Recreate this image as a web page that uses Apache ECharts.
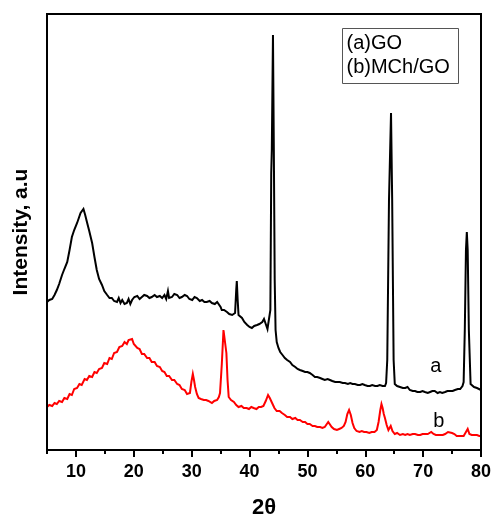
<!DOCTYPE html>
<html>
<head>
<meta charset="utf-8">
<script src="https://cdn.jsdelivr.net/npm/echarts@6/dist/echarts.min.js"></script>
<style>
  html, body { margin: 0; padding: 0; background: #fff; }
  #chart { width: 492px; height: 520px; }
</style>
</head>
<body>
<div id="chart"></div>
<script>
// XRD patterns: (a) GO and (b) MCh/GO, intensity in arbitrary units
const goAngle = [
  5.0, 5.4, 5.9, 6.3, 6.7, 7.1, 7.6, 8.0, 8.5, 8.9, 9.3, 9.7, 10.2, 10.5, 10.8, 11.1, 11.3, 11.6, 11.9, 12.3,
  12.8, 13.2, 13.6, 14.0, 14.5, 14.9, 15.4, 15.8, 16.2, 16.6, 17.1, 17.4, 17.7, 18.0, 18.4, 18.8, 19.1, 19.4, 19.7, 20.1,
  20.6, 21.0, 21.4, 21.8, 22.3, 22.7, 23.1, 23.6, 24.0, 24.5, 24.9, 25.3, 25.6, 25.9, 26.1, 26.6, 27.0, 27.5, 27.9, 28.3,
  28.8, 29.2, 29.6, 30.1, 30.5, 30.9, 31.4, 31.8, 32.2, 32.6, 33.1, 33.5, 34.0, 34.4, 34.7, 35.0, 35.2, 35.6, 36.1, 36.5,
  37.0, 37.3, 37.5, 37.7, 37.8, 37.95, 38.1, 38.4, 38.7, 39.1, 39.6, 40.0, 40.4, 40.8, 41.3, 41.7, 42.2, 42.5, 42.8, 43.1,
  43.4, 43.6, 43.75, 43.85, 44.05, 44.2, 44.35, 44.5, 44.7, 45.0, 45.3, 45.7, 46.1, 46.5, 47.0, 47.4, 47.9, 48.3, 48.7, 49.2,
  49.6, 50.0, 50.4, 50.9, 51.3, 51.7, 52.2, 52.6, 53.0, 53.5, 53.9, 54.3, 54.8, 55.2, 55.6, 56.1, 56.5, 57.0, 57.4, 57.8,
  58.2, 58.7, 59.1, 59.5, 59.9, 60.4, 60.8, 61.2, 61.7, 62.1, 62.5, 63.0, 63.4, 63.6, 63.8, 64.1, 64.45, 64.65, 64.9, 65.1,
  65.5, 66.0, 66.5, 66.9, 67.3, 67.7, 68.2, 68.6, 69.0, 69.5, 69.9, 70.3, 70.8, 71.2, 71.6, 72.0, 72.5, 72.9, 73.3, 73.8,
  74.2, 74.6, 75.1, 75.5, 76.0, 76.4, 76.8, 77.0, 77.2, 77.4, 77.55, 77.7, 77.9, 78.2, 78.4, 78.8, 79.3, 79.6, 80.0
];
const goIntensity = [
  148, 150, 151, 155, 160, 166, 175, 181, 188, 200, 213, 220, 227, 232, 237, 239, 241, 235, 228, 219,
  207, 193, 180, 171, 165, 159, 155, 152, 152, 149, 148, 152, 147, 150, 146, 147, 151, 146, 150, 153,
  154, 151, 153, 155, 154, 152, 153, 155, 153, 154, 152, 155, 151, 159, 152, 153, 156, 155, 152, 153,
  155, 154, 151, 150, 153, 152, 149, 150, 148, 148, 149, 147, 146, 148, 147, 143, 140, 140, 138, 136,
  135, 134, 137, 160, 169, 150, 135, 134, 132, 128, 125, 123, 122, 124, 125, 126, 128, 131, 126, 121,
  120, 140, 277, 300, 415, 300, 170, 120, 108, 102, 98, 95, 92, 90, 88, 85, 83, 81, 80, 79,
  78, 78, 77, 75, 73, 73, 72, 71, 70, 71, 70, 69, 68, 68, 68, 67, 67, 66, 67, 66,
  66, 65, 65, 66, 65, 64, 64, 65, 64, 64, 65, 64, 64, 67, 90, 250, 337, 250, 90, 66,
  64, 63, 62, 62, 63, 60, 59, 59, 58, 58, 59, 58, 57, 58, 59, 59, 57, 58, 57, 58,
  59, 59, 59, 60, 61, 61, 64, 68, 120, 200, 218, 200, 120, 66, 65, 63, 62, 61, 60
];

const mchAngle = [
  5.0, 5.4, 5.9, 6.3, 6.7, 7.1, 7.6, 8.0, 8.5, 8.9, 9.3, 9.7, 10.2, 10.6, 11.0, 11.5, 11.9, 12.3, 12.8, 13.2,
  13.6, 14.0, 14.5, 14.9, 15.4, 15.8, 16.2, 16.6, 17.1, 17.5, 18.0, 18.4, 18.8, 19.1, 19.4, 19.7, 20.0, 20.3, 20.6, 21.0,
  21.4, 21.8, 22.3, 22.7, 23.1, 23.6, 24.0, 24.5, 24.9, 25.3, 25.7, 26.1, 26.6, 27.0, 27.5, 27.9, 28.3, 28.8, 29.2, 29.5,
  29.7, 29.95, 30.2, 30.4, 30.6, 30.9, 31.2, 31.6, 32.1, 32.5, 32.9, 33.2, 33.5, 33.9, 34.4, 34.7, 34.9, 35.2, 35.5, 35.75,
  36.0, 36.2, 36.4, 36.8, 37.3, 37.7, 38.1, 38.6, 39.0, 39.5, 39.9, 40.3, 40.7, 41.2, 41.6, 42.0, 42.4, 42.8, 43.2, 43.5,
  43.9, 44.3, 44.7, 45.2, 45.6, 46.1, 46.5, 47.0, 47.4, 47.9, 48.3, 48.7, 49.2, 49.6, 50.0, 50.4, 50.9, 51.3, 51.7, 52.2,
  52.6, 53.0, 53.3, 53.6, 53.9, 54.2, 54.6, 55.1, 55.5, 55.9, 56.3, 56.6, 56.9, 57.2, 57.5, 57.8, 58.1, 58.5, 59.0, 59.4,
  59.8, 60.2, 60.7, 61.1, 61.6, 62.0, 62.3, 62.6, 62.8, 63.0, 63.2, 63.4, 63.7, 64.0, 64.2, 64.4, 64.7, 65.1, 65.5, 66.0,
  66.5, 66.9, 67.3, 67.7, 68.2, 68.6, 69.1, 69.5, 69.9, 70.3, 70.8, 71.4, 71.8, 72.2, 72.9, 73.4, 73.8, 74.3, 74.6, 75.0,
  75.4, 75.8, 76.1, 76.6, 77.0, 77.4, 77.7, 78.0, 78.4, 78.9, 79.3, 79.7, 80.0
];
const mchIntensity = [
  43, 45, 44, 47, 46, 49, 48, 52, 51, 56, 55, 61, 62, 66, 65, 71, 70, 74, 73, 78,
  77, 81, 82, 87, 86, 92, 91, 97, 98, 103, 104, 108, 106, 110, 109, 111, 106, 106, 102, 101,
  96, 96, 92, 92, 88, 88, 84, 83, 79, 78, 74, 74, 70, 70, 66, 65, 61, 60, 56, 57,
  57, 68, 76, 70, 63, 56, 52, 51, 50, 50, 49, 48, 47, 49, 50, 53, 57, 85, 120, 118,
  97, 70, 53, 50, 48, 45, 43, 44, 42, 42, 41, 43, 42, 41, 43, 43, 44, 49, 55, 52,
  47, 42, 39, 39, 37, 35, 33, 33, 31, 32, 30, 30, 28, 28, 26, 26, 24, 24, 23, 23,
  22, 23, 25, 28, 26, 23, 21, 20, 21, 22, 24, 28, 36, 40, 35, 27, 22, 19, 18, 19,
  18, 18, 17, 18, 18, 20, 28, 40, 46, 42, 36, 32, 25, 20, 22, 24, 19, 16, 17, 15,
  16, 15, 16, 15, 16, 16, 15, 15, 16, 16, 16, 18, 16, 15, 15, 15, 16, 18, 19, 17,
  16, 14, 13, 14, 14, 18, 21, 16, 15, 15, 15, 14, 14
];

const xMin = 5, xMax = 80, yMin = 0, yMax = 436;
const majorTicks = [10, 20, 30, 40, 50, 60, 70, 80];
const minorTicks = [5, 15, 25, 35, 45, 55, 65, 75];
const legendLines = ['(a)GO', '(b)MCh/GO'];
const curveTags = ['a', 'b'];
const tagAngle = [72.2, 72.7];
const tagIntensity = [84, 29];

const zip = (xs, ys) => xs.map((x, i) => [x, ys[i]]);
const FONT = 'Liberation Sans, Arial, sans-serif';
// fresh style objects for each axis
const frameLine = () => ({ show: true, onZero: false, lineStyle: { color: '#000', width: 2 } });
const hiddenTick = () => ({ show: true, length: 0, lineStyle: { color: '#000', width: 0 } });
const hiddenLabel = () => ({ show: true, formatter: () => '', color: 'rgba(0,0,0,0)', fontSize: 1 });
const tagLabel = (text) => ({ show: true, position: 'inside', formatter: text, color: '#000', fontFamily: FONT, fontSize: 20 });

const chart = echarts.init(document.getElementById('chart'), null, { renderer: 'canvas' });

chart.setOption({
  animation: false,
  backgroundColor: '#fff',
  grid: {
    left: 47, right: 11, top: 14, bottom: 70, containLabel: false, outerBoundsMode: 'none',
    show: true, borderColor: '#000', borderWidth: 2, backgroundColor: 'rgba(0,0,0,0)'
  },
  xAxis: [
    {
      type: 'value', min: xMin, max: xMax, interval: 5, position: 'bottom',
      name: '2θ', nameLocation: 'middle', nameGap: 47,
      nameTextStyle: { fontFamily: FONT, fontSize: 22, fontWeight: 'bold', color: '#000' },
      axisLine: frameLine(),
      axisTick: { show: true, inside: false, length: 7, customValues: majorTicks, lineStyle: { color: '#000', width: 2 } },
      axisLabel: { show: true, customValues: majorTicks, margin: 13, fontFamily: FONT, fontSize: 18, fontWeight: 'bold', color: '#000' },
      splitLine: { show: false }
    },
    {
      type: 'value', min: xMin, max: xMax, interval: 5, position: 'bottom',
      axisLine: { show: false, onZero: false },
      axisTick: { show: true, inside: false, length: 4, customValues: minorTicks, lineStyle: { color: '#000', width: 2 } },
      axisLabel: { show: false },
      splitLine: { show: false }
    },
    {
      type: 'value', min: xMin, max: xMax, position: 'top',
      axisLine: frameLine(), axisTick: hiddenTick(), axisLabel: hiddenLabel(), splitLine: { show: false }
    }
  ],
  yAxis: [
    {
      type: 'value', min: yMin, max: yMax, position: 'left',
      name: 'Intensity, a.u', nameLocation: 'middle', nameGap: 15,
      nameTextStyle: { fontFamily: FONT, fontSize: 21, fontWeight: 'bold', color: '#000' },
      axisLine: frameLine(),
      axisTick: { show: false },
      axisLabel: { show: false },
      splitLine: { show: false }
    },
    {
      type: 'value', min: yMin, max: yMax, position: 'right',
      axisLine: frameLine(), axisTick: hiddenTick(), axisLabel: hiddenLabel(), splitLine: { show: false }
    }
  ],
  series: [
    {
      name: 'GO', type: 'line', xAxisIndex: 0, yAxisIndex: 0,
      data: zip(goAngle, goIntensity),
      showSymbol: false, symbol: 'none',
      lineStyle: { color: '#000', width: 2, join: 'miter' },
      markPoint: {
        symbol: 'circle', symbolSize: 1, itemStyle: { color: 'rgba(0,0,0,0)' },
        label: tagLabel(curveTags[0]),
        data: [{ coord: [tagAngle[0], tagIntensity[0]] }]
      }
    },
    {
      name: 'MCh/GO', type: 'line', xAxisIndex: 0, yAxisIndex: 0,
      data: zip(mchAngle, mchIntensity),
      showSymbol: false, symbol: 'none',
      lineStyle: { color: '#ff0000', width: 2, join: 'miter' },
      markPoint: {
        symbol: 'circle', symbolSize: 1, itemStyle: { color: 'rgba(0,0,0,0)' },
        label: tagLabel(curveTags[1]),
        data: [{ coord: [tagAngle[1], tagIntensity[1]] }]
      }
    }
  ]
});

// Plot frame placed through the axis scales, plus the legend box
const corner1 = chart.convertToPixel({ xAxisIndex: 0, yAxisIndex: 0 }, [xMin, yMax]);
const corner2 = chart.convertToPixel({ xAxisIndex: 0, yAxisIndex: 0 }, [xMax, yMin]);
chart.setOption({
  graphic: [
    {
      type: 'rect', z: 30, silent: true,
      shape: { x: corner1[0], y: corner1[1], width: corner2[0] - corner1[0], height: corner2[1] - corner1[1] },
      style: { fill: 'rgba(0,0,0,0)', stroke: '#000', lineWidth: 2 }
    },
    {
      type: 'group', right: 33, top: 28, z: 40,
      children: [
        { type: 'rect', shape: { x: 0, y: 0, width: 116, height: 55 }, style: { fill: '#fff', stroke: '#555', lineWidth: 1 } },
        { type: 'text', x: 4, y: 15, style: { text: legendLines[0], fill: '#000', font: '20px "Liberation Sans", Arial, sans-serif', verticalAlign: 'middle' } },
        { type: 'text', x: 4, y: 39, style: { text: legendLines[1], fill: '#000', font: '20px "Liberation Sans", Arial, sans-serif', verticalAlign: 'middle' } }
      ]
    }
  ]
});
</script>
</body>
</html>
